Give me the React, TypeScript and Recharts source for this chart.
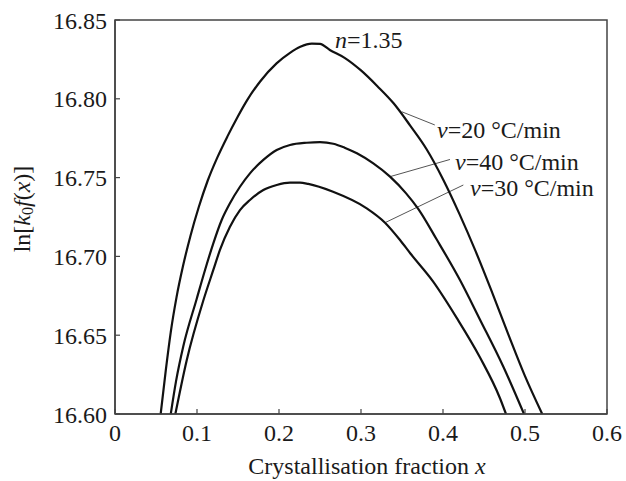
import React from "react";
import { LineChart, Line, XAxis, YAxis, ReferenceArea, ReferenceLine, ReferenceDot } from "recharts";

const xTicks = [0, 0.1, 0.2, 0.3, 0.4, 0.5, 0.6];
const yTicks = [16.6, 16.65, 16.7, 16.75, 16.8, 16.85];

// v = 20 °C/min
const seriesV20 = [
  { x: 0.0557, y: 16.6 }, { x: 0.062, y: 16.628 }, { x: 0.068, y: 16.652 }, { x: 0.075, y: 16.674 },
  { x: 0.083, y: 16.694 }, { x: 0.092, y: 16.713 }, { x: 0.102, y: 16.731 }, { x: 0.113, y: 16.748 },
  { x: 0.125, y: 16.763 }, { x: 0.137, y: 16.776 }, { x: 0.149, y: 16.788 }, { x: 0.161, y: 16.799 },
  { x: 0.177, y: 16.811 }, { x: 0.197, y: 16.8225 }, { x: 0.213, y: 16.829 }, { x: 0.226, y: 16.833 },
  { x: 0.24, y: 16.835 }, { x: 0.25, y: 16.8348 }, { x: 0.262, y: 16.831 }, { x: 0.28, y: 16.826 },
  { x: 0.3, y: 16.818 }, { x: 0.32, y: 16.808 }, { x: 0.34, y: 16.797 }, { x: 0.36, y: 16.783 },
  { x: 0.38, y: 16.768 }, { x: 0.4, y: 16.749 }, { x: 0.42, y: 16.727 }, { x: 0.44, y: 16.703 },
  { x: 0.46, y: 16.677 }, { x: 0.48, y: 16.65 }, { x: 0.5, y: 16.624 }, { x: 0.521, y: 16.6 },
];

// v = 40 °C/min
const seriesV40 = [
  { x: 0.068, y: 16.6 }, { x: 0.0745, y: 16.621 }, { x: 0.0833, y: 16.643 }, { x: 0.0996, y: 16.673 },
  { x: 0.1098, y: 16.6914 }, { x: 0.1199, y: 16.7083 }, { x: 0.1301, y: 16.7231 }, { x: 0.1402, y: 16.7337 },
  { x: 0.1524, y: 16.7442 }, { x: 0.1646, y: 16.7527 }, { x: 0.1809, y: 16.7612 }, { x: 0.1972, y: 16.7675 },
  { x: 0.2134, y: 16.7707 }, { x: 0.2338, y: 16.7721 }, { x: 0.25, y: 16.7725 }, { x: 0.2662, y: 16.7715 },
  { x: 0.28, y: 16.769 }, { x: 0.295, y: 16.7654 }, { x: 0.315, y: 16.759 }, { x: 0.3354, y: 16.7506 },
  { x: 0.355, y: 16.74 }, { x: 0.37, y: 16.73 }, { x: 0.392, y: 16.711 }, { x: 0.4207, y: 16.685 },
  { x: 0.445, y: 16.66 }, { x: 0.4736, y: 16.63 }, { x: 0.4988, y: 16.6 },
];

// v = 30 °C/min
const seriesV30 = [
  { x: 0.0736, y: 16.6 }, { x: 0.0874, y: 16.634 }, { x: 0.1077, y: 16.672 }, { x: 0.1199, y: 16.6914 },
  { x: 0.128, y: 16.7041 }, { x: 0.1402, y: 16.7188 }, { x: 0.1524, y: 16.7294 }, { x: 0.1646, y: 16.7358 },
  { x: 0.1809, y: 16.7421 }, { x: 0.1972, y: 16.7453 }, { x: 0.2134, y: 16.7468 }, { x: 0.2256, y: 16.7468 },
  { x: 0.2357, y: 16.746 }, { x: 0.2659, y: 16.741 }, { x: 0.307, y: 16.7305 }, { x: 0.3293, y: 16.7214 },
  { x: 0.3476, y: 16.7104 }, { x: 0.36, y: 16.702 }, { x: 0.388, y: 16.684 }, { x: 0.4167, y: 16.661 },
  { x: 0.445, y: 16.636 }, { x: 0.4695, y: 16.61 }, { x: 0.4768, y: 16.6 },
];

const leaderLines = [
  [{ x: 0.3496, y: 16.7918 }, { x: 0.39, y: 16.7834 }],
  [{ x: 0.3354, y: 16.7506 }, { x: 0.4085, y: 16.7615 }],
  [{ x: 0.3293, y: 16.7214 }, { x: 0.4248, y: 16.7453 }],
];

const annotations = [
  { x: 0.2683, y: 16.8373, italic: "n", rest: "=1.35" },
  { x: 0.3927, y: 16.7802, italic: "v", rest: "=20 °C/min" },
  { x: 0.4146, y: 16.7599, italic: "v", rest: "=40 °C/min" },
  { x: 0.4329, y: 16.7434, italic: "v", rest: "=30 °C/min" },
];

const FONT = "Liberation Serif, Times New Roman, serif";
const INK = "#1a1a1a";

const AnnotationLabel = (props: any) => {
  const { viewBox, italic, rest } = props;
  const cx = viewBox.x + (viewBox.width || 0) / 2;
  const cy = viewBox.y + (viewBox.height || 0) / 2;
  return (
    <text x={cx} y={cy + 8} fontFamily={FONT} fontSize={24} fill={INK} textAnchor="start">
      <tspan fontStyle="italic">{italic}</tspan>
      <tspan>{rest}</tspan>
    </text>
  );
};

const YTitle = (props: any) => {
  const { viewBox } = props;
  const cx = viewBox.x + 22;
  const cy = viewBox.y + viewBox.height / 2 - 8;
  return (
    <text
      x={cx}
      y={cy}
      transform={`rotate(-90 ${cx} ${cy})`}
      fontFamily={FONT}
      fontSize={24}
      fill={INK}
      textAnchor="middle"
      dominantBaseline="central"
    >
      <tspan>ln[</tspan>
      <tspan fontStyle="italic">k</tspan>
      <tspan fontSize={16} dy={5}>0</tspan>
      <tspan fontStyle="italic" dy={-5}>f</tspan>
      <tspan>(</tspan>
      <tspan fontStyle="italic">x</tspan>
      <tspan>)]</tspan>
    </text>
  );
};

const XTitle = (props: any) => {
  const { viewBox } = props;
  const cx = viewBox.x + viewBox.width / 2 + 6;
  const cy = viewBox.y + 52;
  return (
    <text x={cx} y={cy} fontFamily={FONT} fontSize={24} fill={INK} textAnchor="middle" dominantBaseline="central">
      <tspan>Crystallisation fraction </tspan>
      <tspan fontStyle="italic">x</tspan>
    </text>
  );
};

export default function App() {
  return (
    <div style={{ position: "absolute", left: 0, top: 0, width: 626, height: 481, background: "#fff" }}>
      <LineChart width={626} height={481} margin={{ top: 20, right: 19, left: 0, bottom: 0 }}>
        <XAxis
          type="number"
          dataKey="x"
          domain={[0, 0.6]}
          ticks={xTicks}
          allowDataOverflow
          height={67}
          tickFormatter={(v: number) => (v === 0 ? "0" : v.toFixed(1))}
          tick={{ fontFamily: FONT, fontSize: 24, fill: INK }}
          tickSize={-5}
          tickMargin={15}
          axisLine={{ stroke: "#444", strokeWidth: 1.5 }}
          tickLine={{ stroke: "#444", strokeWidth: 1.2 }}
          label={<XTitle />}
        />
        <YAxis
          type="number"
          dataKey="y"
          domain={[16.6, 16.85]}
          ticks={yTicks}
          allowDataOverflow
          width={115}
          tickFormatter={(v: number) => v.toFixed(2)}
          tick={{ fontFamily: FONT, fontSize: 24, fill: INK }}
          tickSize={-5}
          tickMargin={13}
          axisLine={{ stroke: "#444", strokeWidth: 1.5 }}
          tickLine={{ stroke: "#444", strokeWidth: 1.2 }}
          label={<YTitle />}
        />
        <ReferenceArea x1={0} x2={0.6} y1={16.6} y2={16.85} fill="none" stroke="#444" strokeWidth={1.5} />
        {leaderLines.map((seg, i) => (
          <ReferenceLine key={`l${i}`} segment={seg} stroke="#555" strokeWidth={1} />
        ))}
        <Line data={seriesV20} dataKey="y" type="monotone" stroke="#111" strokeWidth={2.2} dot={false} isAnimationActive={false} />
        <Line data={seriesV40} dataKey="y" type="monotone" stroke="#111" strokeWidth={2.2} dot={false} isAnimationActive={false} />
        <Line data={seriesV30} dataKey="y" type="monotone" stroke="#111" strokeWidth={2.2} dot={false} isAnimationActive={false} />
        {annotations.map((a, i) => (
          <ReferenceDot
            key={`a${i}`}
            x={a.x}
            y={a.y}
            r={0}
            fill="none"
            stroke="none"
            label={<AnnotationLabel italic={a.italic} rest={a.rest} />}
          />
        ))}
      </LineChart>
    </div>
  );
}
